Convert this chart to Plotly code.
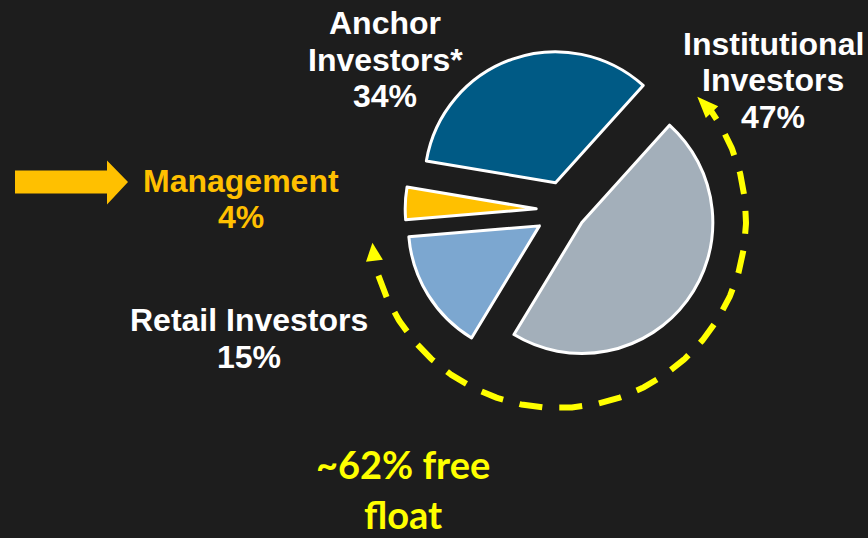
import numpy as np
import plotly.graph_objects as go

# ---------------- data ----------------
categories = ["Institutional Investors", "Retail Investors", "Management", "Anchor Investors*"]
values = [47, 15, 4, 34]
label_lines = [["Institutional", "Investors"], ["Retail Investors"], ["Management"], ["Anchor", "Investors*"]]
free_float_text = ["~62% free", "float"]

# ---------------- styles ----------------
W, H = 868, 538
BG = "#1d1d1d"
slice_colors = ["#A3AFBA", "#7CA7D0", "#FFC000", "#005A85"]
text_colors = ["#FFFFFF", "#FFFFFF", "#FFC000", "#FFFFFF"]
pulls = [0.16, 0.23, 0.22, 0.22]
# label placement (pixel centre x, baseline of first line, line step)
label_pos = [(773, 55, 36.5), (249, 331, 37), (241, 192, 36), (385, 34.5, 36.5)]
LABEL_FONT = "Liberation Sans, Arial, sans-serif"
LABEL_SIZE = 32

# pie geometry in pixels
PIE_CX, PIE_CY, PIE_R = 565, 210, 131

fig = go.Figure()

# hidden pixel-based cartesian frame for decorations
fig.update_xaxes(range=[0, W], visible=False, fixedrange=True)
fig.update_yaxes(range=[H, 0], visible=False, fixedrange=True)

maxpull = max(pulls)
half = PIE_R * (1 + maxpull)
fig.add_trace(go.Pie(
    labels=categories,
    values=values,
    sort=False,
    direction="clockwise",
    rotation=42,
    pull=pulls,
    marker=dict(colors=slice_colors, line=dict(color="#FFFFFF", width=3)),
    textinfo="none",
    hoverinfo="label+percent",
    showlegend=False,
    domain=dict(x=[(PIE_CX - half) / W, (PIE_CX + half) / W],
                y=[(H - PIE_CY - half) / H, (H - PIE_CY + half) / H]),
))

# dashed yellow circular arc around the free-float slices
ARC_CX, ARC_CY, ARC_R = 558, 220, 188
theta = np.radians(np.linspace(162.8, -35.5, 400))
fig.add_trace(go.Scatter(
    x=ARC_CX + ARC_R * np.cos(theta),
    y=ARC_CY + ARC_R * np.sin(theta),
    mode="lines",
    line=dict(color="#FFFF00", width=6, dash="23px,17px"),
    hoverinfo="skip",
    showlegend=False,
))


def arrow_head(theta_base_deg, theta_tip_deg, r_tip, half_w):
    tb = np.radians(theta_base_deg)
    tt = np.radians(theta_tip_deg)
    bx, by = ARC_CX + ARC_R * np.cos(tb), ARC_CY + ARC_R * np.sin(tb)
    tx, ty = ARC_CX + r_tip * np.cos(tt), ARC_CY + r_tip * np.sin(tt)
    dx, dy = tx - bx, ty - by
    n = np.hypot(dx, dy)
    px, py = -dy / n * half_w, dx / n * half_w
    return f"M {tx:.1f},{ty:.1f} L {bx + px:.1f},{by + py:.1f} L {bx - px:.1f},{by - py:.1f} Z"


shapes = [
    dict(type="path", xref="x", yref="y", path=arrow_head(167.5, 173, 187, 8.5),
         fillcolor="#FFFF00", line=dict(width=0)),
    dict(type="path", xref="x", yref="y", path=arrow_head(-35.0, -41.5, 186, 8.5),
         fillcolor="#FFFF00", line=dict(width=0)),
    # orange block arrow pointing at Management
    dict(type="path", xref="x", yref="y",
         path="M 15,170.5 L 107,170.5 L 107,160.5 L 128,182 L 107,204.5 L 107,193.5 L 15,193.5 Z",
         fillcolor="#FFC000", line=dict(width=0)),
]

annotations = []
for lines, v, (cx, base, step), col in zip(label_lines, values, label_pos, text_colors):
    all_lines = lines + [f"{v}%"]
    for i, t in enumerate(all_lines):
        bl = base + i * step
        annotations.append(dict(
            x=cx, y=bl - 0.3465 * LABEL_SIZE, xref="x", yref="y",
            text=f"<b>{t}</b>", showarrow=False, xanchor="center", yanchor="middle",
            font=dict(family=LABEL_FONT, size=LABEL_SIZE, color=col),
        ))

FF_SIZE = 38
for t, bl in zip(free_float_text, [478.5, 529]):
    annotations.append(dict(
        x=403, y=bl - 0.387 * FF_SIZE, xref="x", yref="y",
        text=f"<b>{t}</b>", showarrow=False, xanchor="center", yanchor="middle",
        font=dict(family="Lato, Calibri, sans-serif", size=FF_SIZE, color="#FFFF00"),
    ))

fig.update_layout(
    width=W, height=H,
    margin=dict(l=0, r=0, t=0, b=0),
    paper_bgcolor=BG, plot_bgcolor=BG,
    shapes=shapes, annotations=annotations,
    showlegend=False,
)

fig.write_html(
    "out.html",
    config={"displayModeBar": False},
    post_script="document.body.style.margin='0';document.body.style.background='" + BG + "';",
)
